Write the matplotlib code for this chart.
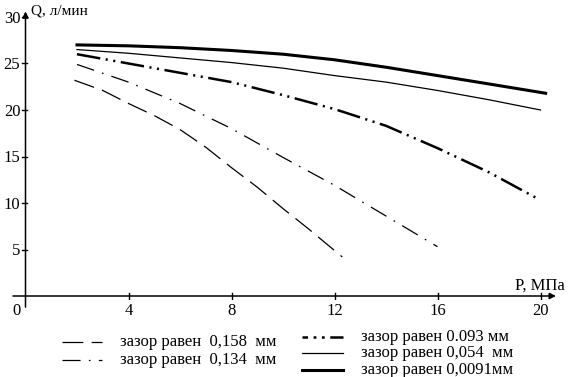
import matplotlib
matplotlib.use("Agg")
import matplotlib.pyplot as plt
from matplotlib.lines import Line2D

plt.rcParams["font.family"] = ["Liberation Serif", "DejaVu Serif"]
plt.rcParams["lines.scale_dashes"] = False

# clearance curves, Q (l/min) vs P (MPa)
p_0091 = [2, 4, 6, 8, 10, 12, 14, 16, 18, 20.2]
q_0091 = [27.0, 26.9, 26.7, 26.4, 26.0, 25.4, 24.6, 23.7, 22.8, 21.8]

p_054 = [2, 4, 6, 8, 10, 12, 14, 16, 18, 20]
q_054 = [26.5, 26.1, 25.6, 25.1, 24.5, 23.7, 23.0, 22.1, 21.1, 20.0]

p_093 = [2, 4, 6, 8, 10, 12, 14, 16, 18, 19.8]
q_093 = [26.0, 25.0, 24.0, 23.0, 21.6, 20.1, 18.3, 15.9, 13.3, 10.6]

p_134 = [2, 4, 6, 8, 10, 12, 14, 16]
q_134 = [24.9, 23.0, 20.7, 18.0, 14.9, 11.9, 8.6, 5.3]

p_158 = [1.9, 3, 4, 5, 6, 7, 8, 9, 10, 11, 12.3]
q_158 = [23.2, 22.1, 20.7, 19.4, 17.9, 16.0, 13.8, 11.7, 9.4, 7.2, 4.2]

x_ticks = [4, 8, 12, 16, 20]
y_ticks = [5, 10, 15, 20, 25, 30]

labels = ["зазор равен  0,158  мм", "зазор равен  0,134  мм",
          "зазор равен 0.093 мм", "зазор равен 0,054  мм",
          "зазор равен 0,0091мм"]

W, H = 571, 377
fig = plt.figure(figsize=(W / 100, H / 100), dpi=100)

def fx(px):
    return px / W

def fy(py):
    return 1 - py / H

# axes box in pixels: left 13, right 560, top 10, bottom 300
ax = fig.add_axes([fx(13), fy(300), fx(560) - fx(13), fy(10) - fy(300)])
x0, sx = 25.5, 25.75
y0, sy = 296, 9.3
ax.set_xlim((13 - x0) / sx, (560 - x0) / sx)
ax.set_ylim((y0 - 300) / sy, (y0 - 10) / sy)
for s in ax.spines.values():
    s.set_visible(False)
ax.set_xticks([])
ax.set_yticks([])

styles = {
    "158": dict(color="black", lw=0.9, dashes=(15, 6)),
    "134": dict(color="black", lw=0.9, dashes=(13, 6, 1.2, 6)),
    "093": dict(color="black", lw=1.8, dashes=(17, 4, 1.5, 4, 1.5, 4)),
    "054": dict(color="black", lw=0.9),
    "0091": dict(color="black", lw=2.2),
}

ax.plot(p_158, q_158, **styles["158"])
ax.plot(p_134, q_134, **styles["134"])
ax.plot(p_093, q_093, **styles["093"])
ax.plot(p_054, q_054, **styles["054"])
ax.plot(p_0091, q_0091, **styles["0091"])

# axes with arrows
xl = ax.get_xlim()
ax.annotate("", xy=(20.6, 0), xytext=(xl[0], 0),
            arrowprops=dict(arrowstyle="-|>", color="black", lw=1.1,
                            mutation_scale=9, shrinkA=0, shrinkB=0))
ax.annotate("", xy=(0, 30.6), xytext=(0, -1.2),
            arrowprops=dict(arrowstyle="-|>", color="black", lw=1.1,
                            mutation_scale=9, shrinkA=0, shrinkB=0),
            annotation_clip=False)

fs = 12
for xt in x_ticks:
    ax.plot([xt, xt], [-0.35, 0.35], color="black", lw=1)
    ax.text(xt, -0.8, str(xt), ha="center", va="top", fontsize=fs)
for yt in y_ticks:
    ax.plot([-0.15, 0.05], [yt, yt], color="black", lw=1)
    ax.text(-0.2, yt - 0.2, str(yt), ha="right", va="center", fontsize=fs)
ax.text(-0.2, -0.8, "0", ha="right", va="top", fontsize=fs)
ax.text(0.2, 30.6, "Q, л/мин", ha="left", va="center", fontsize=11)
ax.text(19.0, 1.1, "P, МПа", ha="left", va="center", fontsize=fs)

# legend built by hand
lfs = 12
left_rows = [(342, "158", labels[0]), (360, "134", labels[1])]
right_rows = [(337, "093", labels[2]), (353, "054", labels[3]), (370, "0091", labels[4])]
for py, key, lab in left_rows:
    fig.add_artist(Line2D([fx(62), fx(102)], [fy(py), fy(py)], **styles[key]))
    fig.text(fx(120), fy(py), lab, ha="left", va="center", fontsize=lfs)
for py, key, lab in right_rows:
    st = dict(styles[key])
    if key == "093":
        st["dashes"] = (4, 4, 2, 4, 2, 4, 10, 4)
    fig.add_artist(Line2D([fx(302), fx(343)], [fy(py), fy(py)], **st))
    fig.text(fx(361), fy(py), lab, ha="left", va="center", fontsize=lfs)

fig.savefig("out.png", dpi=100)
